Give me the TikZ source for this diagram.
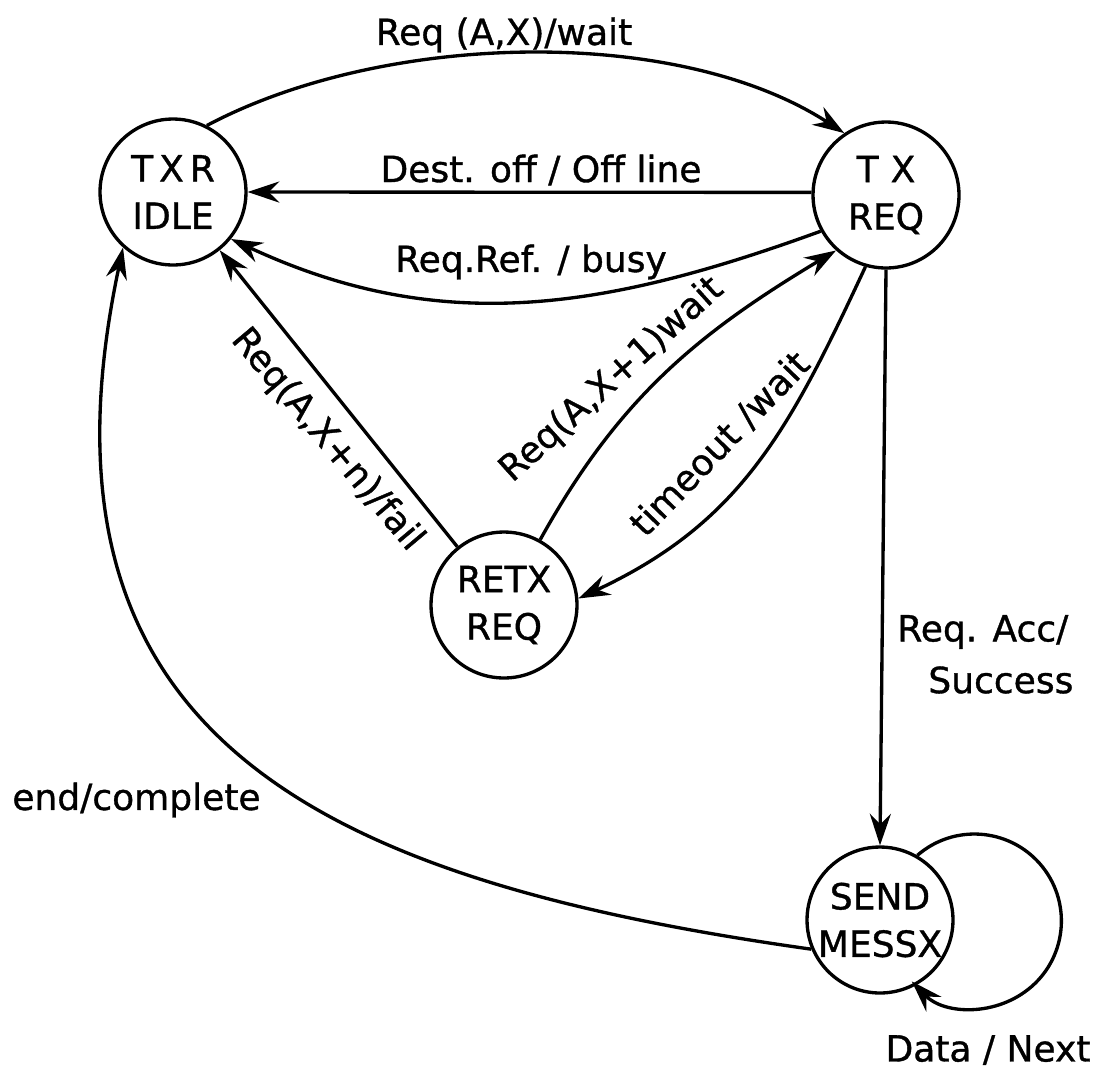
\documentclass[tikz,border=0pt]{standalone}
\usepackage{fontspec}
\newfontfamily\dv[FakeBold=1.0]{DejaVu Sans}
\usetikzlibrary{arrows.meta}
\begin{document}
\begin{tikzpicture}[x=0.02cm, y=-0.02cm,
  state/.style={draw, circle, line width=1.9pt, minimum size=2.92cm, inner sep=0pt,
                align=center, font=\dv\fontsize{20.5}{27}\selectfont},
  conn/.style={line width=1.9pt, -{Stealth[length=18pt, width=12pt, inset=6pt]}},
  lbl/.style={font=\dv\fontsize{20.5}{26}\selectfont, inner sep=0pt}]
\useasboundingbox (0,0) rectangle (1112,1073);
% states
\node[state] (idle)  at (173,192) {T\,X\,R\\IDLE};
\node[state] (txreq) at (886,195) {T\,\,X\\REQ};
\node[state] (retx)  at (504,605) {RETX\\REQ};
\node[state] (send)  at (880,920) {SEND\\MESSX};
% transitions
\draw[conn] (idle.63) to[out=28, in=147, looseness=0.8] (txreq.124);
\draw[conn] (txreq.178) -- (idle.east);
\draw[conn] (txreq.209) to[out=200, in=-25] (idle.-39);
\draw[conn] (retx.61) to[out=61, in=211, looseness=1.0] (txreq.228);
\draw[conn] (txreq.254) to[out=245, in=25, looseness=1.05] (retx.5);
\draw[conn] (retx) -- (idle);
\draw[conn] (txreq.south) -- (send.north);
\draw[conn] (send.203) to[out=172, in=-102, looseness=1.3] (idle.228);
\draw[conn] (send.60) arc[start angle=131, end angle=-136, radius=1.74cm];
% labels
\node[lbl] (l1) at (504,35) {Req (A,X)/wait};
\node[lbl] (l2) at (541,170) {Dest. off / Off line};
\node[lbl] (l3) at (531,262) {Req.Ref. / busy};
\node[lbl, rotate=-50] (l4) at (327,440) {Req(A,X+n)/fail};
\node[lbl, rotate=42] (l5) at (612,380) {Req(A,X+1)wait};
\node[lbl, rotate=46] (l6) at (720,444) {timeout /wait};
\node[lbl, anchor=west] (l7) at (897,632) {Req. Acc/};
\node[lbl, anchor=west] (l8) at (928,680) {Success};
\node[lbl, anchor=west] (l9) at (12,800) {end/complete};
\node[lbl] (l10) at (988,1050) {Data / Next};
\end{tikzpicture}
\end{document}
